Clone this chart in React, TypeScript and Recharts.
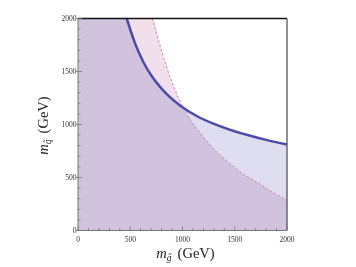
import { ComposedChart, Area, Line, XAxis, YAxis, ReferenceLine, Label } from 'recharts';

// gluino mass (GeV) along each exclusion boundary, and the squark mass on it
const blueMass = [466, 545, 625, 700, 785, 880, 976, 1136, 1295, 1450, 1614, 1800, 2000];
const blueBound = [2000, 1768, 1590, 1465, 1355, 1258, 1180, 1080, 1008, 952, 903, 855, 811];
const dashMass = [711, 794, 897, 1024, 1150, 1263, 1390, 1502, 1600, 1710, 1850, 2000];
const dashBound = [2000, 1715, 1405, 1128, 945, 808, 683, 590, 522, 457, 368, 287];

const axisTicks = [0, 100, 200, 300, 400, 500, 600, 700, 800, 900, 1000, 1100, 1200, 1300, 1400, 1500, 1600, 1700, 1800, 1900, 2000];
const majorTicks = [0, 500, 1000, 1500, 2000];
const plotMax = 2000;

const blueLine = blueMass.map((x, i) => ({ x, y: blueBound[i] }));
const dashLine = dashMass.map((x, i) => ({ x, y: dashBound[i] }));
// the regions are filled to the top edge left of where each curve enters
const blueArea = [{ x: 0, y: plotMax }, ...blueLine];
const dashArea = [{ x: 0, y: plotMax }, ...dashLine];

const serif = '"Liberation Serif", "DejaVu Serif", serif';

function XTick(props: any) {
  const { x, y, payload } = props;
  const major = majorTicks.includes(payload.value);
  return (
    <g>
      <line x1={x} x2={x} y1={y} y2={y - (major ? 4 : 2.5)} stroke="#777" strokeWidth={0.8} />
      {major && (
        <text x={x} y={y + 11.5} textAnchor="middle" fontSize={7.5} fontFamily={serif} fill="#333">
          {payload.value}
        </text>
      )}
    </g>
  );
}

function YTick(props: any) {
  const { x, y, payload } = props;
  const major = majorTicks.includes(payload.value);
  return (
    <g>
      <line x1={major ? x - 2 : x} x2={x + (major ? 4 : 2.5)} y1={y} y2={y} stroke="#777" strokeWidth={0.8} />
      {major && (
        <text x={x - 1.5} y={y} dy="0.35em" textAnchor="end" fontSize={7.5} fontFamily={serif} fill="#333">
          {payload.value}
        </text>
      )}
    </g>
  );
}

function XTitle(props: any) {
  const vb = props.viewBox || {};
  const cx = vb.x + vb.width / 2;
  return (
    <text x={cx + 3} y={vb.y + 27.5} textAnchor="middle" fontSize={14.5} fontFamily={serif} fill="#222">
      <tspan fontStyle="italic">m</tspan>
      <tspan fontStyle="italic" fontSize={9.5} dy={3}>g̃</tspan>
      <tspan dy={-3} dx={6}>(GeV)</tspan>
    </text>
  );
}

function YTitle(props: any) {
  const vb = props.viewBox || {};
  const cy = vb.y + vb.height / 2;
  return (
    <text transform={`translate(40, ${cy + 1}) rotate(-90)`} textAnchor="middle" fontSize={14.5} fontFamily={serif} fill="#222">
      <tspan fontStyle="italic">m</tspan>
      <tspan fontStyle="italic" fontSize={9.5} dy={3}>q̃</tspan>
      <tspan dy={-3} dx={6}>(GeV)</tspan>
    </text>
  );
}

export default function App() {
  return (
    <div style={{ width: 340, height: 259 }}>
      <style>{'.blue-fill { mix-blend-mode: multiply; }'}</style>
      <ComposedChart width={340} height={259} margin={{ top: 10.5, right: 61, left: 0, bottom: 8 }}>
        <Area
          data={dashArea}
          dataKey="y"
          type="monotone"
          fill="#f1e0eb"
          fillOpacity={1}
          stroke="none"
          isAnimationActive={false}
        />
        <Area
          className="blue-fill"
          data={blueArea}
          dataKey="y"
          type="monotone"
          fill="#dedef0"
          fillOpacity={1}
          stroke="none"
          isAnimationActive={false}
        />
        <Line
          data={dashLine}
          dataKey="y"
          type="monotone"
          stroke="#c67ea5"
          strokeWidth={0.9}
          strokeDasharray="2.5 2"
          dot={false}
          isAnimationActive={false}
        />
        <Line
          data={blueLine}
          dataKey="y"
          type="monotone"
          stroke="#4b4ba9"
          strokeWidth={2.5}
          dot={false}
          isAnimationActive={false}
        />
        <ReferenceLine y={plotMax} stroke="#111" strokeWidth={1.3} />
        <ReferenceLine x={plotMax} stroke="#555" strokeWidth={1.3} />
        <XAxis
          dataKey="x"
          type="number"
          domain={[0, plotMax]}
          ticks={axisTicks}
          interval={0}
          height={28.5}
          tickSize={0}
          tickMargin={0}
          tickLine={false}
          tick={<XTick />}
          axisLine={{ stroke: '#777', strokeWidth: 1 }}
        >
          <Label content={<XTitle />} />
        </XAxis>
        <YAxis
          type="number"
          domain={[0, plotMax]}
          ticks={axisTicks}
          interval={0}
          width={70}
          tickSize={0}
          tickMargin={0}
          tickLine={false}
          tick={<YTick />}
          axisLine={{ stroke: '#777', strokeWidth: 1 }}
        >
          <Label content={<YTitle />} />
        </YAxis>
      </ComposedChart>
    </div>
  );
}
